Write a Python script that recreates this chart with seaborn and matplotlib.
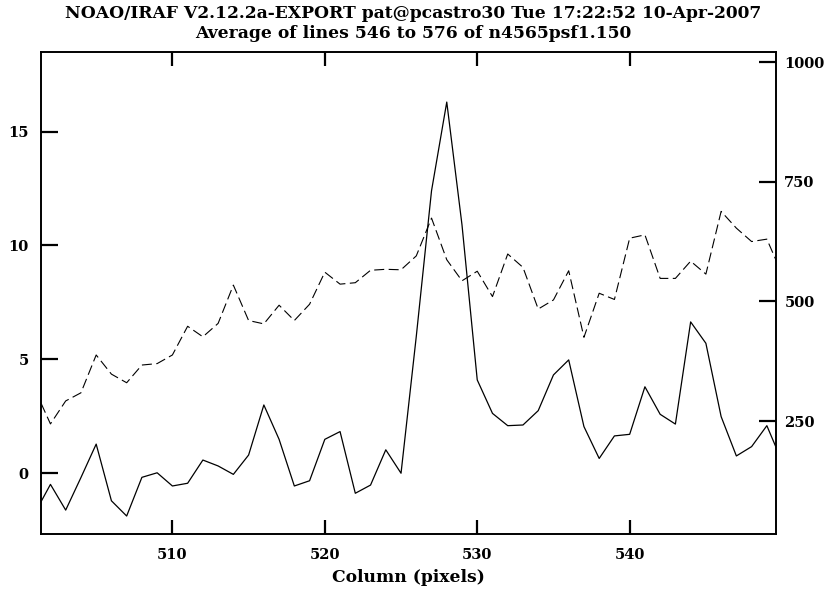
import matplotlib
matplotlib.use("Agg")
import matplotlib.pyplot as plt
import seaborn as sns
import pandas as pd

# Column numbers along the extracted line average
columns = list(range(501, 551))

# Averaged profile (left axis)
profile = [-1.73, -0.50, -1.63, -0.20, 1.27, -1.22, -1.89, -0.19, 0.01, -0.57,
           -0.45, 0.57, 0.31, -0.06, 0.79, 2.99, 1.48, -0.57, -0.34, 1.48,
           1.82, -0.89, -0.53, 1.02, -0.01, 6.00, 12.40, 16.30, 10.90, 4.09,
           2.62, 2.08, 2.11, 2.74, 4.31, 4.97, 2.04, 0.64, 1.63, 1.70,
           3.79, 2.58, 2.15, 6.64, 5.70, 2.48, 0.75, 1.16, 2.08, 0.50]

# Overplotted profile (right axis)
overlay = [314, 244, 292, 309, 388, 348, 330, 367, 370, 388,
           448, 426, 454, 534, 460, 453, 492, 460, 494, 561,
           536, 539, 565, 567, 566, 595, 674, 587, 543, 563,
           510, 599, 571, 484, 503, 564, 425, 517, 504, 632,
           639, 548, 548, 584, 557, 688, 653, 625, 630, 557]

x_ticks = [510, 520, 530, 540]
left_ticks = [0, 5, 10, 15]
right_ticks = [250, 500, 750, 1000]

title_lines = ["NOAO/IRAF V2.12.2a-EXPORT pat@pcastro30 Tue 17:22:52 10-Apr-2007",
               "Average of lines 546 to 576 of n4565psf1.150"]
x_label = "Column (pixels)"

df = pd.DataFrame({"column": columns, "profile": profile, "overlay": overlay})

sns.set_style("white")
plt.rcParams["font.family"] = ["DejaVu Serif"]
plt.rcParams["text.color"] = "black"
plt.rcParams["xtick.color"] = "black"
plt.rcParams["ytick.color"] = "black"
plt.rcParams["axes.labelcolor"] = "black"

fig = plt.figure(figsize=(8.27, 5.94), dpi=100)
ax = fig.add_axes([41 / 827, 60 / 594, 735 / 827, 482 / 594])

sns.lineplot(data=df, x="column", y="profile", ax=ax, color="black",
             linewidth=0.9, sort=False)

ax2 = ax.twinx()
sns.lineplot(data=df, x="column", y="overlay", ax=ax2, color="black",
             linewidth=0.8, sort=False, dashes=False)
ax2.lines[0].set_dashes((9, 4))

ax.set_xlim(501.38, 549.6)
ax.set_ylim(-2.68, 18.5)
ax2.set_ylim(14, 1021)

label_font = dict(family="DejaVu Serif", weight="bold", size=10.5,
                  color="black")

ax.set_xticks(x_ticks)
ax.set_xticklabels([str(t) for t in x_ticks], fontdict=label_font)
ax.set_yticks(left_ticks)
ax.set_yticklabels([str(t) for t in left_ticks], fontdict=label_font)
ax2.set_yticks(right_ticks)
ax2.set_yticklabels([str(t) for t in right_ticks], fontdict=label_font)

ax.tick_params(axis="x", direction="in", length=10, width=1.6, top=True,
               bottom=True, pad=10, color="black")
ax.tick_params(axis="y", direction="in", length=12.5, width=1.6, left=True,
               right=False, pad=9, color="black")
ax2.tick_params(axis="y", direction="in", length=12.5, width=1.6, right=True,
                left=False, pad=6, color="black")

for a in (ax, ax2):
    for s in a.spines.values():
        s.set_visible(True)
        s.set_color("black")
        s.set_linewidth(1.2)

ax.set_xlabel(x_label, fontdict=dict(family="DejaVu Serif", weight="bold",
                                     size=12.3, color="black"), labelpad=5)
ax.set_ylabel("")
ax2.set_ylabel("")

fig.text(0.5, 1 - 14 / 594, title_lines[0], ha="center", va="center",
         family="DejaVu Serif", weight="bold", size=12.3, color="black")
fig.text(0.5, 1 - 33 / 594, title_lines[1], ha="center", va="center",
         family="DejaVu Serif", weight="bold", size=12.3, color="black")

fig.savefig("out.png", dpi=100)
